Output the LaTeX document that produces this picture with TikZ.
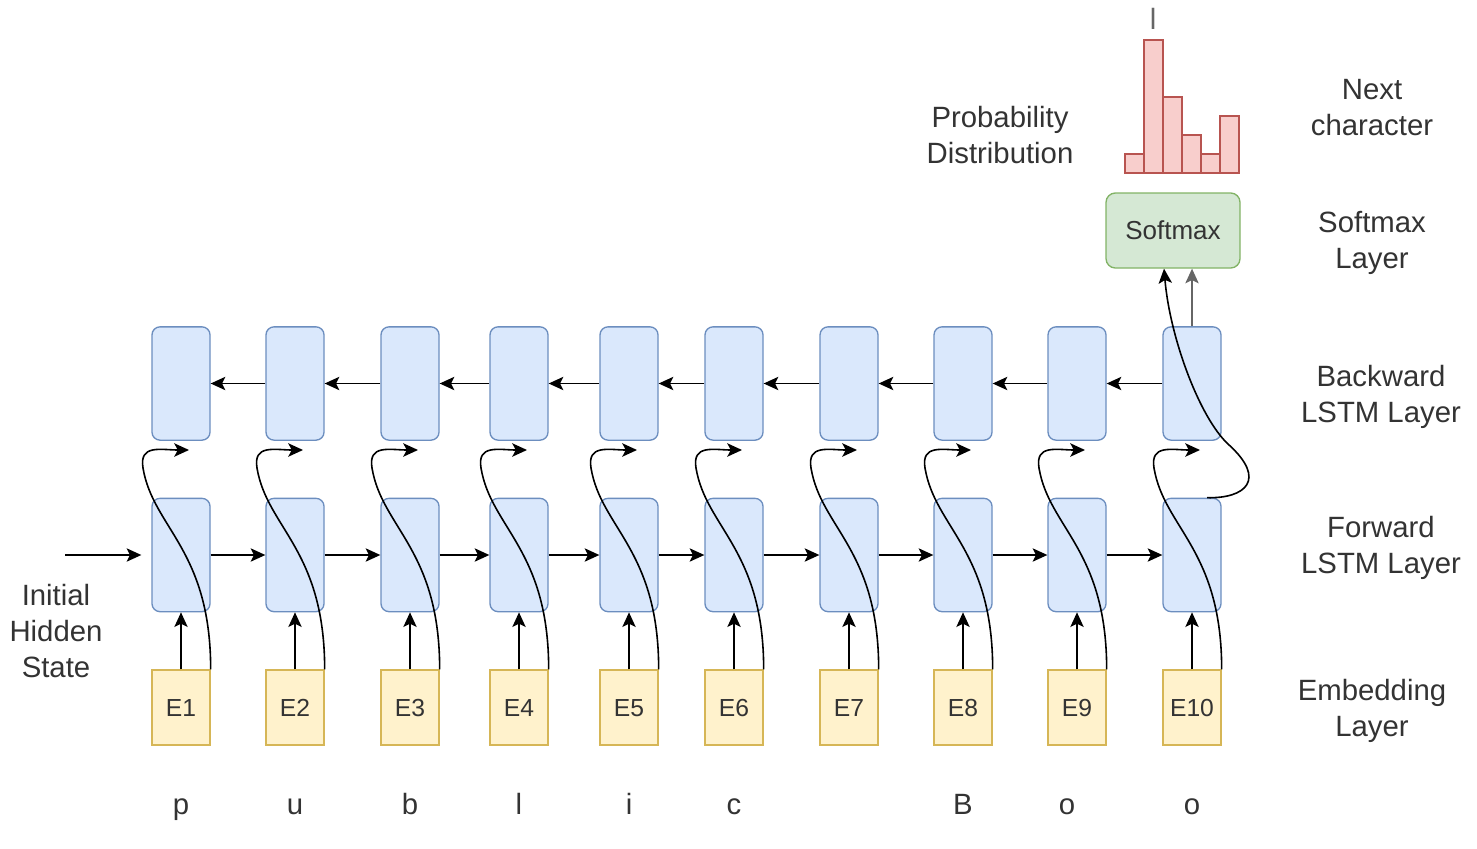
\documentclass[tikz,border=0pt]{standalone}
\usepackage{fontspec}
\setmainfont{Liberation Sans}
\usetikzlibrary{arrows.meta}

\tikzset{
  lstm/.style={draw={rgb, 255:red, 108; green, 142; blue, 191 }, fill={rgb, 255:red, 218; green, 232; blue, 252 }, line width=1pt, rounded corners=6pt, minimum width=43.5pt, minimum height=85pt, inner sep=0pt},
  embed/.style={draw={rgb, 255:red, 214; green, 182; blue, 86 }, fill={rgb, 255:red, 255; green, 242; blue, 204 }, line width=1pt, minimum width=43.5pt, minimum height=56.25pt, inner sep=0pt, text height=13.3pt, text depth=0pt, text={rgb, 255:red, 51; green, 51; blue, 51 }, font=\fontsize{18.5}{22}\selectfont},
  softbox/.style={draw={rgb, 255:red, 130; green, 179; blue, 102 }, fill={rgb, 255:red, 213; green, 232; blue, 212 }, line width=1pt, rounded corners=7pt, minimum width=100.5pt, minimum height=56.25pt, inner sep=0pt, text={rgb, 255:red, 51; green, 51; blue, 51 }, font=\fontsize{19.5}{23}\selectfont},
  bar/.style={draw={rgb, 255:red, 184; green, 84; blue, 80 }, fill={rgb, 255:red, 248; green, 206; blue, 204 }, line width=1pt},
  label/.style={inner sep=0pt, align=center, text={rgb, 255:red, 51; green, 51; blue, 51 }, font=\fontsize{22}{27}\selectfont},
  flow/.style={-{Stealth[length=11pt,width=10pt,inset=2.5pt]}, line width=1.2pt},
}

\begin{document}
\begin{tikzpicture}[x=0.75pt,y=0.75pt,yscale=-1,xscale=1]
        \useasboundingbox (0,0) rectangle (1477,849);

        % Embedding Layer
        \node [embed] (e1) at (181,707.5) {E1};
        \node [embed] (e2) at (295,707.5) {E2};
        \node [embed] (e3) at (410,707.5) {E3};
        \node [embed] (e4) at (519,707.5) {E4};
        \node [embed] (e5) at (629,707.5) {E5};
        \node [embed] (e6) at (734,707.5) {E6};
        \node [embed] (e7) at (849,707.5) {E7};
        \node [embed] (e8) at (963,707.5) {E8};
        \node [embed] (e9) at (1077,707.5) {E9};
        \node [embed] (e10) at (1192,707.5) {E10};

        % Forward LSTM Layer
        \node [lstm] (f1) at (181,555) {};
        \node [lstm] (f2) at (295,555) {};
        \node [lstm] (f3) at (410,555) {};
        \node [lstm] (f4) at (519,555) {};
        \node [lstm] (f5) at (629,555) {};
        \node [lstm] (f6) at (734,555) {};
        \node [lstm] (f7) at (849,555) {};
        \node [lstm] (f8) at (963,555) {};
        \node [lstm] (f9) at (1077,555) {};
        \node [lstm] (f10) at (1192,555) {};

        % Backward LSTM Layer
        \node [lstm] (b1) at (181,383.5) {};
        \node [lstm] (b2) at (295,383.5) {};
        \node [lstm] (b3) at (410,383.5) {};
        \node [lstm] (b4) at (519,383.5) {};
        \node [lstm] (b5) at (629,383.5) {};
        \node [lstm] (b6) at (734,383.5) {};
        \node [lstm] (b7) at (849,383.5) {};
        \node [lstm] (b8) at (963,383.5) {};
        \node [lstm] (b9) at (1077,383.5) {};
        \node [lstm] (b10) at (1192,383.5) {};

        % Softmax
        \node [softbox] (sm) at (1173,230.5) {Softmax};

        %Shape: Histogram
        \draw [bar] (1125,154) rectangle (1144,173);
        \draw [bar] (1144,40) rectangle (1163,173);
        \draw [bar] (1163,97) rectangle (1182,173);
        \draw [bar] (1182,135) rectangle (1201,173);
        \draw [bar] (1201,154) rectangle (1220,173);
        \draw [bar] (1220,116) rectangle (1239,173);

        % Loop ends
        \coordinate (init) at (65,555);
        \coordinate (l1) at (189,450);
        \coordinate (l2) at (303,450);
        \coordinate (l3) at (418,450);
        \coordinate (l4) at (527,450);
        \coordinate (l5) at (637,450);
        \coordinate (l6) at (742,450);
        \coordinate (l7) at (857,450);
        \coordinate (l8) at (971,450);
        \coordinate (l9) at (1085,450);
        \coordinate (l10) at (1200,450);

        %Straight Lines: embedding to forward
        \draw [flow] (e1) -- (f1);
        \draw [flow] (e2) -- (f2);
        \draw [flow] (e3) -- (f3);
        \draw [flow] (e4) -- (f4);
        \draw [flow] (e5) -- (f5);
        \draw [flow] (e6) -- (f6);
        \draw [flow] (e7) -- (f7);
        \draw [flow] (e8) -- (f8);
        \draw [flow] (e9) -- (f9);
        \draw [flow] (e10) -- (f10);

        %Straight Lines: forward
        \draw [flow, shorten >=7.5pt] (init) -- (f1);
        \draw [flow] (f1) -- (f2);
        \draw [flow] (f2) -- (f3);
        \draw [flow] (f3) -- (f4);
        \draw [flow] (f4) -- (f5);
        \draw [flow] (f5) -- (f6);
        \draw [flow] (f6) -- (f7);
        \draw [flow] (f7) -- (f8);
        \draw [flow] (f8) -- (f9);
        \draw [flow] (f9) -- (f10);

        %Straight Lines: backward
        \draw [flow] (b10) -- (b9);
        \draw [flow] (b9) -- (b8);
        \draw [flow] (b8) -- (b7);
        \draw [flow] (b7) -- (b6);
        \draw [flow] (b6) -- (b5);
        \draw [flow] (b5) -- (b4);
        \draw [flow] (b4) -- (b3);
        \draw [flow] (b3) -- (b2);
        \draw [flow] (b2) -- (b1);

        %Curve Lines: embedding to backward
        \draw [flow] (e1.north east) .. controls +(0,-120) and +(10,60) .. (143,468) .. controls +(-4,-24) and +(-28,0) .. (l1);
        \draw [flow] (e2.north east) .. controls +(0,-120) and +(10,60) .. (257,468) .. controls +(-4,-24) and +(-28,0) .. (l2);
        \draw [flow] (e3.north east) .. controls +(0,-120) and +(10,60) .. (372,468) .. controls +(-4,-24) and +(-28,0) .. (l3);
        \draw [flow] (e4.north east) .. controls +(0,-120) and +(10,60) .. (481,468) .. controls +(-4,-24) and +(-28,0) .. (l4);
        \draw [flow] (e5.north east) .. controls +(0,-120) and +(10,60) .. (591,468) .. controls +(-4,-24) and +(-28,0) .. (l5);
        \draw [flow] (e6.north east) .. controls +(0,-120) and +(10,60) .. (696,468) .. controls +(-4,-24) and +(-28,0) .. (l6);
        \draw [flow] (e7.north east) .. controls +(0,-120) and +(10,60) .. (811,468) .. controls +(-4,-24) and +(-28,0) .. (l7);
        \draw [flow] (e8.north east) .. controls +(0,-120) and +(10,60) .. (925,468) .. controls +(-4,-24) and +(-28,0) .. (l8);
        \draw [flow] (e9.north east) .. controls +(0,-120) and +(10,60) .. (1039,468) .. controls +(-4,-24) and +(-28,0) .. (l9);
        \draw [flow] (e10.north east) .. controls +(0,-120) and +(10,60) .. (1154,468) .. controls +(-4,-24) and +(-28,0) .. (l10);

        %Curve Lines: forward to softmax
        \draw [flow] ([xshift=11.25pt]f10.north) .. controls +(38,1) and +(40,36) .. (1228,444) .. controls +(-28,-26) and +(6,70) .. ([xshift=-6.75pt]sm.south);
        %Straight Lines: backward to softmax
        \draw [flow, color={rgb, 255:red, 102; green, 102; blue, 102 }] (b10.north) -- (b10.north |- sm.south);

        % Text Node
        \node [label, anchor=base, text={rgb, 255:red, 102; green, 102; blue, 102 }] (nxt) at (1153,30) {l};
        % Text Node
        \node [label] (prob) at (1000,135) {Probability\\Distribution};
        % Text Node
        \node [label] (lnext) at (1372,108) {Next\\character};
        % Text Node
        \node [label] (lsoft) at (1372,243) {Softmax\\Layer};
        % Text Node
        \node [label] (lback) at (1381,397) {Backward\\LSTM Layer};
        % Text Node
        \node [label] (lfwd) at (1381,548) {Forward\\LSTM Layer};
        % Text Node
        \node [label] (lemb) at (1372,711) {Embedding\\Layer};
        % Text Node
        \node [label] (linit) at (56,631) {Initial\\Hidden\\State};

        % Text Node
        \node [label, anchor=base] (c1) at (181,814) {p};
        \node [label, anchor=base] (c2) at (295,814) {u};
        \node [label, anchor=base] (c3) at (410,814) {b};
        \node [label, anchor=base] (c4) at (519,814) {l};
        \node [label, anchor=base] (c5) at (629,814) {i};
        \node [label, anchor=base] (c6) at (734,814) {c};
        \node [label, anchor=base] (c8) at (963,814) {B};
        \node [label, anchor=base] (c9) at (1067,814) {o};
        \node [label, anchor=base] (c10) at (1192,814) {o};

\end{tikzpicture}
\end{document}
